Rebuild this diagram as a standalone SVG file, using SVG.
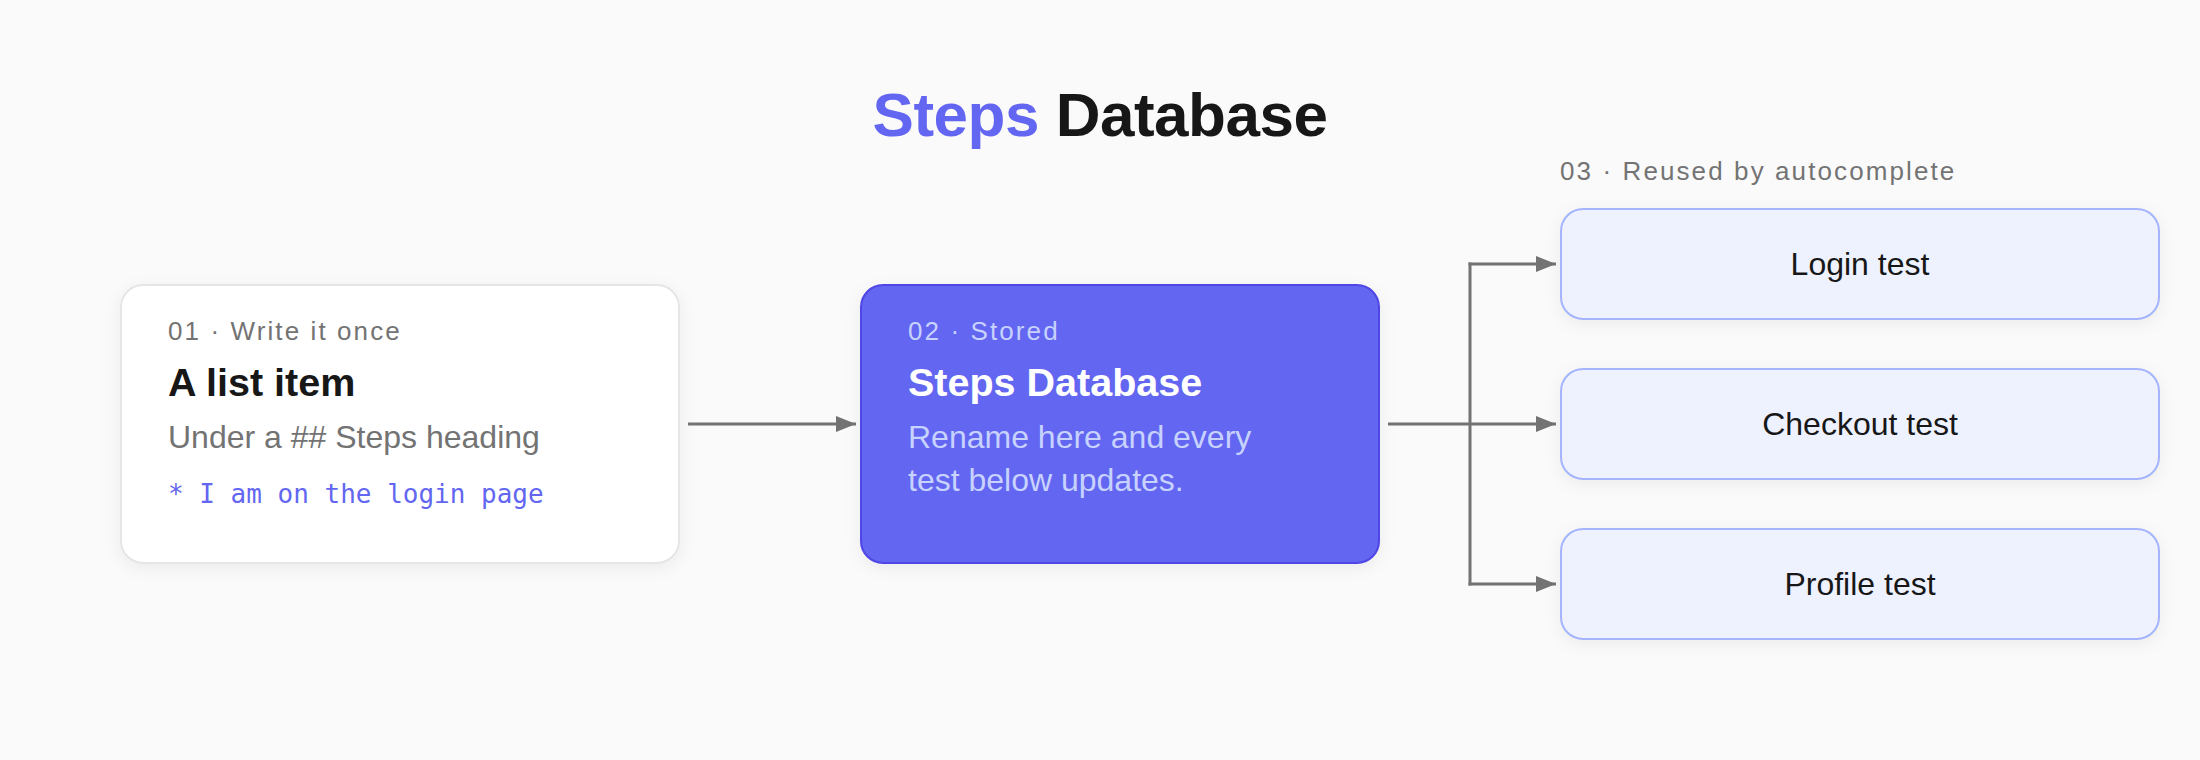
<svg xmlns="http://www.w3.org/2000/svg" width="2200" height="760" viewBox="0 0 2200 760">
  <defs>
    <style>
      .sans { font-family: "Liberation Sans", Arial, sans-serif; }
      .mono { font-family: "DejaVu Sans Mono", "Liberation Mono", monospace; }
      .label { font-size: 26px; letter-spacing: 2.1px; fill: #737373; }
      .title { font-size: 39.5px; font-weight: bold; }
      .body { font-size: 32px; }
      .edge { fill: none; stroke: #737373; stroke-width: 3; }
      .test rect { fill: #eef2ff; stroke: #a5b4fc; stroke-width: 2; }
      .test text { font-size: 32px; fill: #171717; text-anchor: middle; }
    </style>
    <filter id="shadow" x="-10%" y="-20%" width="120%" height="150%">
      <feDropShadow dx="0" dy="4" stdDeviation="8" flood-color="#000" flood-opacity="0.06"/>
    </filter>
    <marker id="arrow" viewBox="0 0 20 16" refX="20" refY="8" markerWidth="20" markerHeight="16" markerUnits="userSpaceOnUse" orient="auto">
      <path d="M0,0 L20,8 L0,16 Z" fill="#737373"/>
    </marker>
  </defs>
  <rect x="0" y="0" width="2200" height="760" fill="#fafafa"/>

  <g id="title">
    <text class="sans" x="1100" y="136" font-size="62" font-weight="bold" letter-spacing="-0.5" text-anchor="middle"><tspan fill="#6366f1">Steps</tspan><tspan fill="#171717"> Database</tspan></text>
  </g>

  <g id="connectors">
    <line class="edge" x1="688" y1="424" x2="856" y2="424" marker-end="url(#arrow)"/>
    <line class="edge" x1="1388" y1="424" x2="1556" y2="424" marker-end="url(#arrow)"/>
    <line class="edge" x1="1470" y1="262.5" x2="1470" y2="585.5"/>
    <line class="edge" x1="1468.5" y1="264" x2="1556" y2="264" marker-end="url(#arrow)"/>
    <line class="edge" x1="1468.5" y1="584" x2="1556" y2="584" marker-end="url(#arrow)"/>
  </g>

  <g id="node-list-item">
    <rect x="121" y="285" width="558" height="278" rx="22" fill="#ffffff" stroke="#e5e5e5" stroke-width="2" filter="url(#shadow)"/>
    <text class="sans label" x="168" y="340">01 · Write it once</text>
    <text class="sans title" x="168" y="396" fill="#171717">A list item</text>
    <text class="sans body" x="168" y="448" fill="#737373">Under a ## Steps heading</text>
    <text class="mono" x="168" y="503" font-size="26" fill="#6366f1">* I am on the login page</text>
  </g>

  <g id="node-steps-database">
    <rect x="861" y="285" width="518" height="278" rx="22" fill="#6366f1" stroke="#4f46e5" stroke-width="2" filter="url(#shadow)"/>
    <text class="sans label" x="908" y="340" style="fill:#c7d2fe">02 · Stored</text>
    <text class="sans title" x="908" y="396" fill="#ffffff">Steps Database</text>
    <text class="sans body" x="908" y="448" fill="#c7d2fe">Rename here and every</text>
    <text class="sans body" x="908" y="491" fill="#c7d2fe">test below updates.</text>
  </g>

  <g id="group-label">
    <text class="sans label" x="1560" y="180">03 · Reused by autocomplete</text>
  </g>

  <g id="node-login-test" class="test">
    <rect x="1561" y="209" width="598" height="110" rx="22" filter="url(#shadow)"/>
    <text class="sans" x="1860" y="275">Login test</text>
  </g>
  <g id="node-checkout-test" class="test">
    <rect x="1561" y="369" width="598" height="110" rx="22" filter="url(#shadow)"/>
    <text class="sans" x="1860" y="435">Checkout test</text>
  </g>
  <g id="node-profile-test" class="test">
    <rect x="1561" y="529" width="598" height="110" rx="22" filter="url(#shadow)"/>
    <text class="sans" x="1860" y="595">Profile test</text>
  </g>
</svg>
